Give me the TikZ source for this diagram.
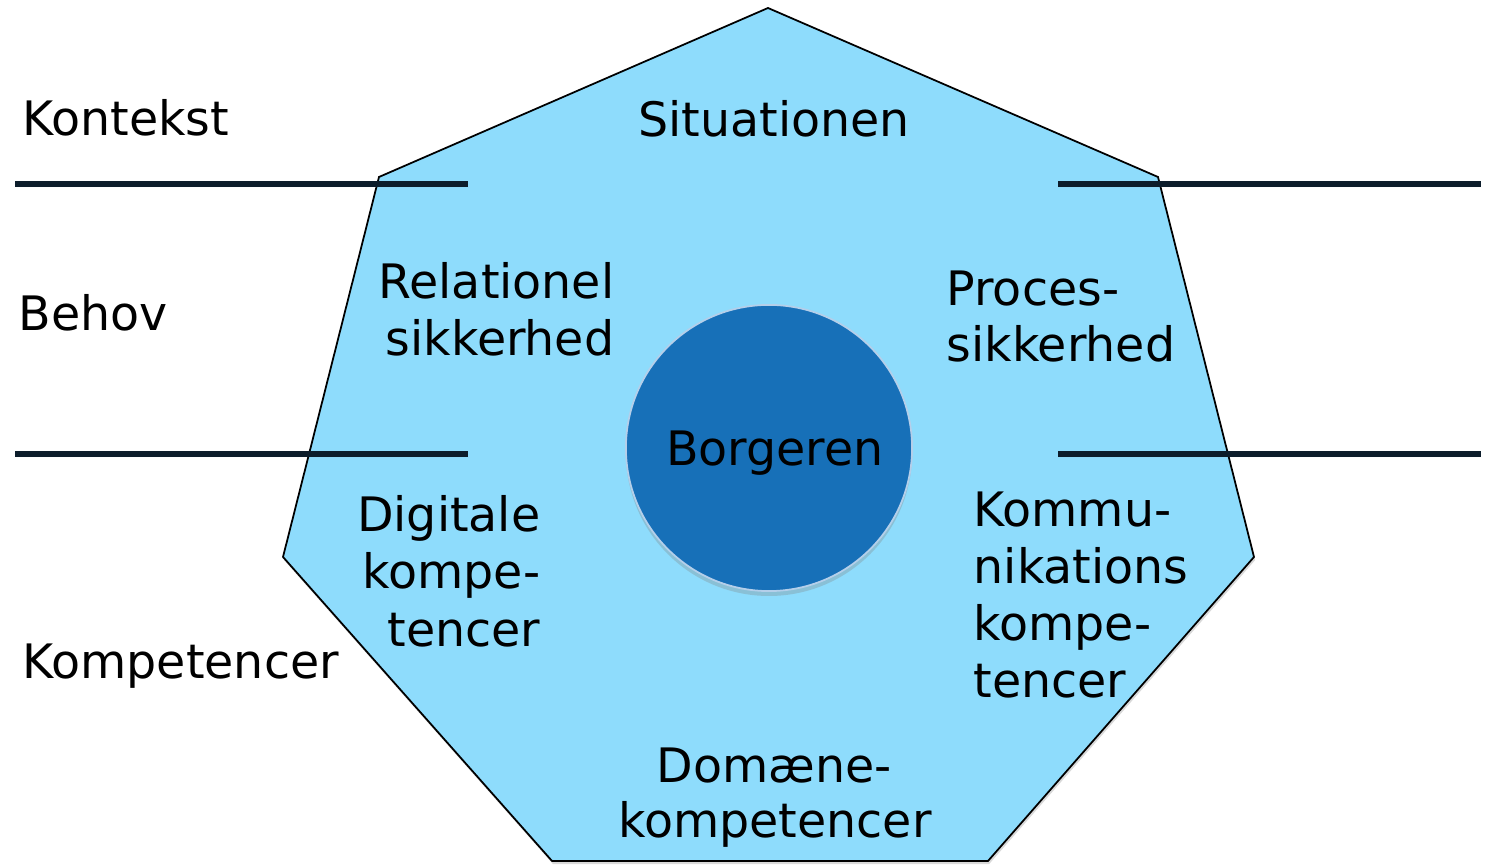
\documentclass[tikz,border=0pt]{standalone}
\usepackage{fontspec}
\setmainfont{DejaVu Sans}
\usetikzlibrary{shadows}
\definecolor{hexfill}{HTML}{8EDCFC}
\definecolor{coreblue}{HTML}{1770B8}
\definecolor{coreedge}{HTML}{B4CFEA}
\definecolor{divider}{HTML}{0C1D2B}
\tikzset{
  lbl/.style={inner sep=0pt, font=\fontsize{13.5pt}{16.2pt}\selectfont},
  divline/.style={draw=divider, line width=1.6pt,
    drop shadow={shadow xshift=0.2pt, shadow yshift=-0.9pt, opacity=0.22}},
  outerpoly/.style={fill=hexfill, draw=black, line width=0.5pt,
    drop shadow={shadow xshift=0.3pt, shadow yshift=-0.9pt, opacity=0.3}},
  core/.style={circle, fill=coreblue, draw=coreedge, line width=0.5pt,
    inner sep=0pt,
    drop shadow={shadow xshift=0pt, shadow yshift=-1.4pt, opacity=0.3}}
}
\begin{document}
\begin{tikzpicture}[x=0.01cm, y=-0.01cm]
  \useasboundingbox (0,0) rectangle (1496,865);

  % seven-sided frame
  \coordinate (p1) at (768,8);
  \coordinate (p2) at (1158,177);
  \coordinate (p3) at (1254,557);
  \coordinate (p4) at (988,861);
  \coordinate (p5) at (552,861);
  \coordinate (p6) at (283,557);
  \coordinate (p7) at (379,177);
  \path[outerpoly] (p1) -- (p2) -- (p3) -- (p4) -- (p5) -- (p6) -- (p7) -- cycle;

  % centre circle
  \node[core, minimum size=2.86cm] (core) at (769,448) {};
  \node[lbl] (borg) at (775,466) [anchor=base] {Borgeren};

  % horizontal dividers
  \coordinate (l1a) at (15,184);   \coordinate (l1b) at (468,184);
  \coordinate (r1a) at (1058,184); \coordinate (r1b) at (1481,184);
  \coordinate (l2a) at (15,454);   \coordinate (l2b) at (468,454);
  \coordinate (r2a) at (1058,454); \coordinate (r2b) at (1481,454);
  \path[divline] (l1a) -- (l1b);
  \path[divline] (r1a) -- (r1b);
  \path[divline] (l2a) -- (l2b);
  \path[divline] (r2a) -- (r2b);

  % row headings
  \node[lbl, anchor=base west] (kontekst) at (22,136) {Kontekst};
  \node[lbl, anchor=base west] (behov) at (18,331) {Behov};
  \node[lbl, anchor=base west] (komp) at (22,679) {Kompetencer};

  % segment labels
  \node[lbl, anchor=base] (sit) at (774,137) {Situationen};
  \node[lbl, anchor=base east] (rel1) at (615,299) {Relationel};
  \node[lbl, anchor=base east] (rel2) at (615,356) {sikkerhed};
  \node[lbl, anchor=base west] (pro1) at (946,306) {Proces-};
  \node[lbl, anchor=base west] (pro2) at (946,362) {sikkerhed};
  \node[lbl, anchor=base east] (dig1) at (541,532) {Digitale};
  \node[lbl, anchor=base east] (dig2) at (541,589) {kompe-};
  \node[lbl, anchor=base east] (dig3) at (541,647) {tencer};
  \node[lbl, anchor=base west] (kom1) at (973,527) {Kommu-};
  \node[lbl, anchor=base west] (kom2) at (973,584) {nikations};
  \node[lbl, anchor=base west] (kom3) at (973,641) {kompe-};
  \node[lbl, anchor=base west] (kom4) at (973,698) {tencer};
  \node[lbl, anchor=base] (dom1) at (774,783) {Domæne-};
  \node[lbl, anchor=base] (dom2) at (775,838) {kompetencer};
\end{tikzpicture}
\end{document}
